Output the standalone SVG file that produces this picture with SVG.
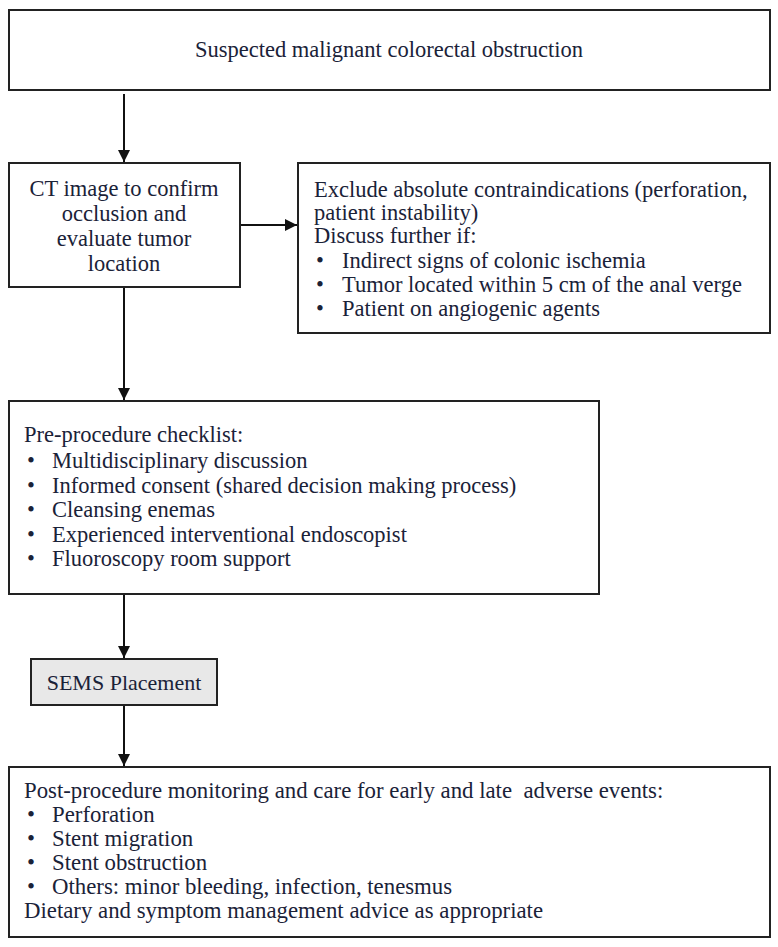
<svg xmlns="http://www.w3.org/2000/svg" width="778" height="947" viewBox="0 0 778 947">
<defs>
<marker id="ah" viewBox="0 0 10 10" refX="10" refY="5" markerWidth="12" markerHeight="12" markerUnits="userSpaceOnUse" orient="auto">
<path d="M0,0 L10,5 L0,10 z" fill="#111"/>
</marker>
</defs>
<style>
.box{fill:#fff;stroke:#222;stroke-width:2}
.grey{fill:#e8e8e8}
text{font-family:"Liberation Serif","Times New Roman",serif;font-size:22.5px;fill:#1a2238}
.c{text-anchor:middle}
.post{font-size:22.8px}
.con{stroke:#111;stroke-width:2;fill:none;marker-end:url(#ah)}
</style>
<rect width="778" height="947" fill="#fff"/>
<g id="connectors">
<line class="con" x1="124" y1="94" x2="124" y2="162"/>
<line class="con" x1="240" y1="225" x2="297" y2="225"/>
<line class="con" x1="124" y1="287" x2="124" y2="400"/>
<line class="con" x1="124" y1="594" x2="124" y2="658"/>
<line class="con" x1="124" y1="705" x2="124" y2="766"/>
</g>
<g id="n-suspected">
<rect class="box" x="9" y="10" width="761" height="80"/>
<text class="c" x="389" y="57">Suspected malignant colorectal obstruction</text>
</g>
<g id="n-ct">
<rect class="box" x="9" y="163" width="231" height="124"/>
<text class="c" x="124" y="196">CT image to confirm</text>
<text class="c" x="124" y="221">occlusion and</text>
<text class="c" x="124" y="246">evaluate tumor</text>
<text class="c" x="124" y="271">location</text>
</g>
<g id="n-exclude">
<rect class="box" x="298" y="163" width="472" height="170"/>
<text x="314" y="197">Exclude absolute contraindications (perforation,</text>
<text x="314" y="220">patient instability)</text>
<text x="314" y="243">Discuss further if:</text>
<text x="316" y="268">•</text><text x="342" y="268">Indirect signs of colonic ischemia</text>
<text x="316" y="292">•</text><text x="342" y="292">Tumor located within 5 cm of the anal verge</text>
<text x="316" y="316">•</text><text x="342" y="316">Patient on angiogenic agents</text>
</g>
<g id="n-pre">
<rect class="box" x="9" y="401" width="590" height="193"/>
<text x="24" y="442">Pre-procedure checklist:</text>
<text x="27" y="468">•</text><text x="52" y="468">Multidisciplinary discussion</text>
<text x="27" y="493">•</text><text x="52" y="493">Informed consent (shared decision making process)</text>
<text x="27" y="517">•</text><text x="52" y="517">Cleansing enemas</text>
<text x="27" y="542">•</text><text x="52" y="542">Experienced interventional endoscopist</text>
<text x="27" y="566">•</text><text x="52" y="566">Fluoroscopy room support</text>
</g>
<g id="n-sems">
<rect class="box grey" x="31" y="659" width="186" height="46"/>
<text class="c" x="124" y="690" style="font-size:22px">SEMS Placement</text>
</g>
<g id="n-post">
<rect class="box" x="9" y="767" width="761" height="170"/>
<text class="post" x="24" y="798" xml:space="preserve">Post-procedure monitoring and care for early and late  adverse events:</text>
<text class="post" x="27" y="822">•</text><text class="post" x="52" y="822">Perforation</text>
<text class="post" x="27" y="846">•</text><text class="post" x="52" y="846">Stent migration</text>
<text class="post" x="27" y="870">•</text><text class="post" x="52" y="870">Stent obstruction</text>
<text class="post" x="27" y="894">•</text><text class="post" x="52" y="894">Others: minor bleeding, infection, tenesmus</text>
<text class="post" x="24" y="918">Dietary and symptom management advice as appropriate</text>
</g>
</svg>
